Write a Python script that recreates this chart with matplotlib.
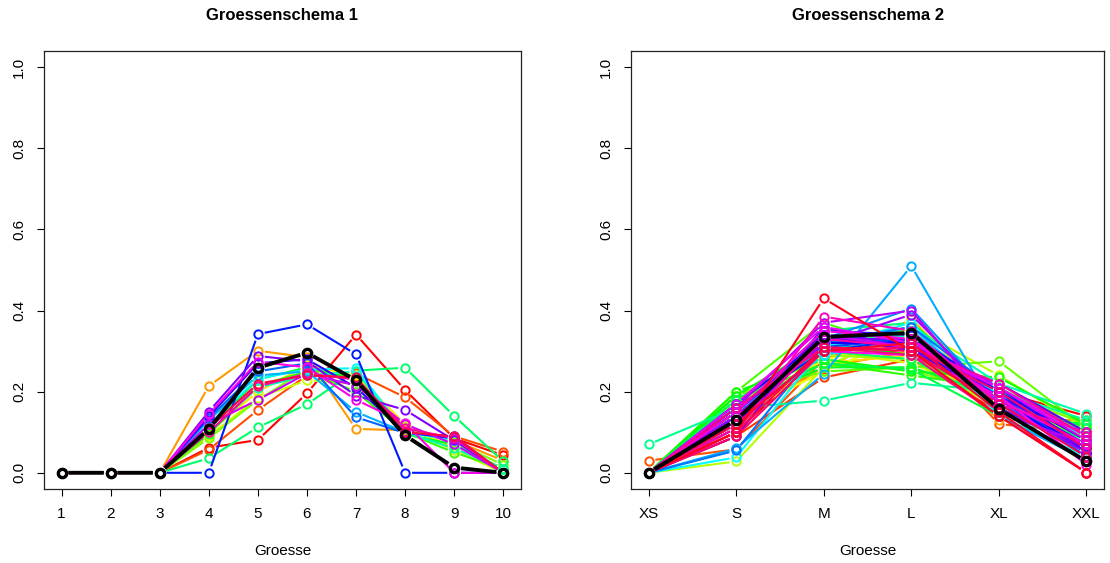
import colorsys
import matplotlib
matplotlib.use("Agg")
import matplotlib.pyplot as plt
from matplotlib.patches import FancyArrowPatch

plt.rcParams["font.family"] = ["Liberation Sans", "DejaVu Sans"]

# ---- Groessenschema 1: numeric sizes 1..10 ----
sizes_1 = [1, 2, 3, 4, 5, 6, 7, 8, 9, 10]
shares_1 = [
    [0, 0, 0, 0.062, 0.081, 0.196, 0.341, 0.204, 0.085, 0.043],
    [0, 0, 0, 0.057, 0.155, 0.240, 0.245, 0.186, 0.090, 0.052],
    [0, 0, 0, 0.214, 0.301, 0.285, 0.108, 0.105, 0.080, 0.030],
    [0, 0, 0, 0.100, 0.200, 0.265, 0.240, 0.120, 0.060, 0.010],
    [0, 0, 0, 0.090, 0.185, 0.228, 0.220, 0.115, 0.055, 0.000],
    [0, 0, 0, 0.085, 0.180, 0.255, 0.235, 0.110, 0.075, 0.020],
    [0, 0, 0, 0.095, 0.215, 0.250, 0.200, 0.100, 0.050, 0.010],
    [0, 0, 0, 0.110, 0.230, 0.260, 0.230, 0.095, 0.070, 0.010],
    [0, 0, 0, 0.036, 0.112, 0.169, 0.252, 0.259, 0.140, 0.028],
    [0, 0, 0, 0.100, 0.210, 0.240, 0.250, 0.100, 0.060, 0.010],
    [0, 0, 0, 0.120, 0.232, 0.255, 0.258, 0.100, 0.080, 0.000],
    [0, 0, 0, 0.130, 0.240, 0.250, 0.150, 0.100, 0.085, 0.000],
    [0, 0, 0, 0.135, 0.250, 0.270, 0.137, 0.098, 0.090, 0.000],
    [0, 0, 0, 0.000, 0.342, 0.366, 0.292, 0.000, 0.000, 0.000],
    [0, 0, 0, 0.139, 0.270, 0.280, 0.210, 0.100, 0.085, 0.000],
    [0, 0, 0, 0.151, 0.288, 0.275, 0.190, 0.155, 0.080, 0.000],
    [0, 0, 0, 0.120, 0.180, 0.245, 0.215, 0.120, 0.070, 0.000],
    [0, 0, 0, 0.145, 0.274, 0.260, 0.180, 0.122, 0.000, 0.000],
    [0, 0, 0, 0.100, 0.213, 0.245, 0.230, 0.110, 0.085, 0.000],
    [0, 0, 0, 0.110, 0.220, 0.240, 0.235, 0.100, 0.090, 0.000],
]
overall_1 = [0, 0, 0, 0.108, 0.259, 0.296, 0.228, 0.092, 0.013, 0.000]

# ---- Groessenschema 2: letter sizes ----
sizes_2 = ["XS", "S", "M", "L", "XL", "XXL"]
shares_2 = [
    [0.00, 0.100, 0.300, 0.330, 0.200, 0.140],
    [0.00, 0.120, 0.330, 0.290, 0.180, 0.080],
    [0.00, 0.090, 0.235, 0.280, 0.150, 0.100],
    [0.03, 0.058, 0.280, 0.350, 0.120, 0.100],
    [0.00, 0.110, 0.300, 0.310, 0.190, 0.090],
    [0.00, 0.140, 0.260, 0.300, 0.200, 0.100],
    [0.00, 0.120, 0.290, 0.330, 0.130, 0.130],
    [0.00, 0.150, 0.250, 0.380, 0.160, 0.060],
    [0.00, 0.160, 0.270, 0.290, 0.170, 0.110],
    [0.00, 0.130, 0.280, 0.320, 0.190, 0.080],
    [0.00, 0.140, 0.250, 0.340, 0.180, 0.090],
    [0.00, 0.170, 0.300, 0.270, 0.180, 0.080],
    [0.00, 0.028, 0.260, 0.360, 0.240, 0.110],
    [0.00, 0.180, 0.290, 0.280, 0.160, 0.090],
    [0.00, 0.190, 0.280, 0.250, 0.200, 0.120],
    [0.00, 0.190, 0.250, 0.260, 0.275, 0.110],
    [0.00, 0.200, 0.370, 0.300, 0.200, 0.080],
    [0.00, 0.180, 0.270, 0.240, 0.210, 0.100],
    [0.00, 0.200, 0.280, 0.250, 0.235, 0.120],
    [0.00, 0.190, 0.320, 0.290, 0.180, 0.060],
    [0.00, 0.170, 0.260, 0.260, 0.190, 0.110],
    [0.00, 0.160, 0.270, 0.255, 0.140, 0.120],
    [0.00, 0.180, 0.300, 0.280, 0.170, 0.080],
    [0.00, 0.150, 0.350, 0.370, 0.190, 0.070],
    [0.07, 0.160, 0.178, 0.222, 0.200, 0.130],
    [0.00, 0.120, 0.300, 0.360, 0.220, 0.145],
    [0.00, 0.140, 0.310, 0.340, 0.180, 0.100],
    [0.00, 0.130, 0.290, 0.350, 0.190, 0.090],
    [0.00, 0.038, 0.310, 0.370, 0.140, 0.040],
    [0.00, 0.130, 0.290, 0.330, 0.160, 0.050],
    [0.00, 0.150, 0.320, 0.360, 0.170, 0.070],
    [0.00, 0.060, 0.244, 0.510, 0.140, 0.030],
    [0.00, 0.140, 0.330, 0.405, 0.170, 0.060],
    [0.00, 0.055, 0.320, 0.360, 0.200, 0.050],
    [0.00, 0.150, 0.340, 0.320, 0.190, 0.040],
    [0.00, 0.160, 0.310, 0.330, 0.180, 0.060],
    [0.00, 0.160, 0.300, 0.330, 0.210, 0.060],
    [0.00, 0.170, 0.330, 0.310, 0.180, 0.050],
    [0.00, 0.140, 0.320, 0.320, 0.200, 0.050],
    [0.00, 0.110, 0.350, 0.340, 0.200, 0.080],
    [0.00, 0.120, 0.340, 0.300, 0.190, 0.070],
    [0.00, 0.090, 0.360, 0.300, 0.220, 0.100],
    [0.00, 0.150, 0.330, 0.330, 0.160, 0.060],
    [0.00, 0.140, 0.320, 0.390, 0.170, 0.050],
    [0.00, 0.160, 0.370, 0.400, 0.150, 0.070],
    [0.00, 0.130, 0.340, 0.310, 0.210, 0.080],
    [0.00, 0.170, 0.360, 0.320, 0.210, 0.090],
    [0.00, 0.120, 0.300, 0.290, 0.190, 0.020],
    [0.00, 0.150, 0.350, 0.330, 0.180, 0.070],
    [0.00, 0.100, 0.385, 0.350, 0.170, 0.100],
    [0.00, 0.110, 0.330, 0.310, 0.220, 0.090],
    [0.00, 0.160, 0.310, 0.290, 0.140, 0.000],
    [0.00, 0.090, 0.300, 0.310, 0.200, 0.060],
    [0.00, 0.100, 0.310, 0.300, 0.170, 0.040],
    [0.00, 0.120, 0.300, 0.320, 0.150, 0.000],
    [0.00, 0.100, 0.430, 0.300, 0.140, 0.000],
]
overall_2 = [0.000, 0.130, 0.335, 0.345, 0.157, 0.028]

y_ticks = [0.0, 0.2, 0.4, 0.6, 0.8, 1.0]


def rainbow(n):
    return [colorsys.hsv_to_rgb(i / n, 1.0, 1.0) for i in range(n)]


def draw_series(ax, xs, ys, color, lw, ms, mew, z):
    # lines with a gap around every point (like type="b")
    for i in range(len(xs) - 1):
        seg = FancyArrowPatch((xs[i], ys[i]), (xs[i + 1], ys[i + 1]),
                              arrowstyle="-", shrinkA=5.0, shrinkB=5.0,
                              color=color, lw=lw, capstyle="butt", zorder=z)
        ax.add_patch(seg)
    ax.plot(xs, ys, linestyle="none", marker="o", ms=ms, mfc="none",
            mec=color, mew=mew, zorder=z + 0.5)


fig = plt.figure(figsize=(11.10, 5.63), dpi=100)
ax1 = fig.add_axes([0.0396, 0.1314, 0.4297, 0.778])
ax2 = fig.add_axes([0.5685, 0.1314, 0.4261, 0.778])

x2 = list(range(1, len(sizes_2) + 1))
panels = [
    (ax1, sizes_1, shares_1, overall_1, [str(s) for s in sizes_1], "Groessenschema 1"),
    (ax2, x2, shares_2, overall_2, sizes_2, "Groessenschema 2"),
]

for ax, xs, rows, overall, xlabels, title in panels:
    cols = rainbow(len(rows))
    for k, (row, c) in enumerate(zip(rows, cols)):
        draw_series(ax, xs, row, c, 1.5, 6.0, 1.4, 2 + k)
    draw_series(ax, xs, overall, "black", 2.8, 6.0, 2.4, 2 + len(rows) + 1)

    span = xs[-1] - xs[0]
    ax.set_xlim(xs[0] - 0.04 * span, xs[-1] + 0.04 * span)
    ax.set_ylim(-0.04, 1.04)
    ax.set_xticks(xs)
    ax.set_xticklabels(xlabels)
    ax.set_yticks(y_ticks)
    ax.set_yticklabels([f"{t:.1f}" for t in y_ticks], rotation=90, va="center")
    ax.tick_params(direction="out", length=5, width=0.8, labelsize=11,
                   pad=8, colors="black")
    for sp in ax.spines.values():
        sp.set_linewidth(0.9)
        sp.set_color("#222222")

    pos = ax.get_position()
    cx = pos.x0 + pos.width / 2
    fig.text(cx, 1 - 16 / 563, title, ha="center", va="center",
             fontsize=12, fontweight="bold")
    fig.text(cx, 1 - 551 / 563, "Groesse", ha="center", va="center", fontsize=11)

fig.savefig("out.png", dpi=100)
